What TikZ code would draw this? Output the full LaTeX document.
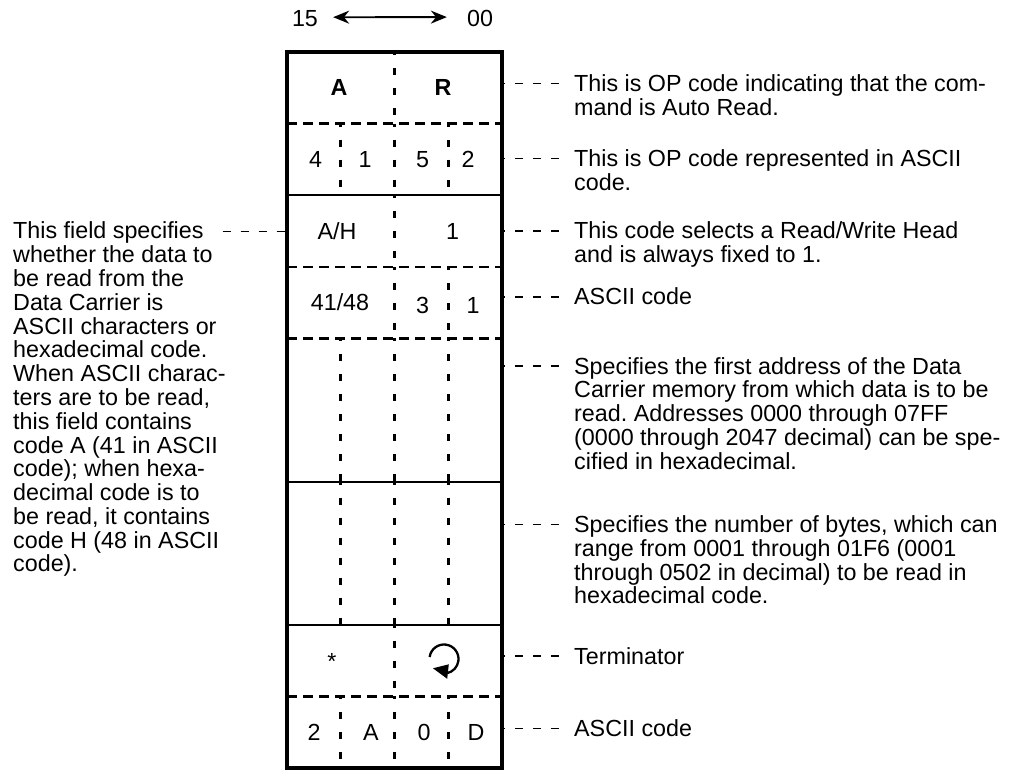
\documentclass[tikz,border=0pt]{standalone}
\usepackage{fontspec}
\setmainfont{Liberation Sans}
\usetikzlibrary{arrows.meta}
\frenchspacing
\newcommand{\desclines}[1]{\begin{tabular}[t]{@{}l@{}}#1\end{tabular}}
\begin{document}
\begin{tikzpicture}[x=1pt,y=-1pt,
  every node/.style={font=\fontsize{23.3}{23}\selectfont, inner sep=0pt},
  cell/.style={anchor=base},
  desc/.style={anchor=base west},
  border/.style={line width=4.6pt},
  solidrule/.style={line width=2.2pt},
  hdash/.style={line width=2.4pt, dash pattern=on 10pt off 6pt},
  vdash/.style={line width=2.7pt, dash pattern=on 7pt off 13pt, dash phase=4pt},
  leader/.style={line width=1.9pt, dash pattern=on 8pt off 10pt},
]
\useasboundingbox (0,0) rectangle (1018,770);

% top bit-order arrow
\node[cell] (n15) at (305,26.7) {15};
\node[cell] (n00) at (480,26.7) {00};
\draw[line width=1.8pt, {Stealth[length=16pt,width=13pt]}-{Stealth[length=16pt,width=13pt]},
  shorten <=15pt, shorten >=20pt] ([yshift=1.6pt]n15.east) -- ([yshift=1.6pt]n00.west);

% horizontal inner rules
\draw[hdash] (287,123.6) -- (502,123.6);
\draw[solidrule] (287,195.2) -- (502,195.2);
\draw[hdash] (287,266.8) -- (502,266.8);
\draw[hdash] (287,338.4) -- (502,338.4);
\draw[solidrule] (287,481.6) -- (502,481.6);
\draw[solidrule] (287,624.8) -- (502,624.8);
\draw[hdash] (287,696.4) -- (502,696.4);

% vertical dashed dividers
% centre divider, every row
\foreach \a/\b in {52/123.6,123.6/195.2,195.2/266.8,266.8/338.4,338.4/481.6,481.6/624.8,624.8/696.4,696.4/768}
  \draw[vdash] (394.5,\a) -- (394.5,\b);
% left quarter divider
\foreach \a/\b in {123.6/195.2,338.4/481.6,481.6/624.8,696.4/768}
  \draw[vdash] (340.75,\a) -- (340.75,\b);
% right quarter divider
\foreach \a/\b in {123.6/195.2,266.8/338.4,338.4/481.6,481.6/624.8,696.4/768}
  \draw[vdash] (448.25,\a) -- (448.25,\b);

% outer frame
\draw[border] (287,52) rectangle (502,768);

% cell contents
\node[cell,font=\fontsize{23.3}{23}\selectfont\bfseries] (cA) at (339,95.5) {A};
\node[cell,font=\fontsize{23.3}{23}\selectfont\bfseries] (cR) at (443,95.5) {R};
\node[cell] (c41) at (315.5,167.5) {4};
\node[cell] (c1a) at (365,167.5) {1};
\node[cell] (c5) at (422.5,167.5) {5};
\node[cell] (c2) at (468,167.5) {2};
\node[cell] (cAH) at (337,239.3) {A/H};
\node[cell] (c1b) at (452.5,239.3) {1};
\node[cell] (c4148) at (340,310) {41/48};
\node[cell] (c3) at (422.5,313.3) {3};
\node[cell] (c1c) at (473,313.3) {1};
\node[cell] (cstar) at (332,669) {*};
% return (carriage return) symbol
\coordinate (ret) at (444,659);
\draw[line width=2.3pt]
  (ret) ++(172:14.5pt) arc[start angle=172, end angle=-78, radius=14.5pt];
\fill (433,668.3) -- (448.8,664.3) -- (447.2,678.8) -- cycle;
\node[cell] (c2b) at (314,740.5) {2};
\node[cell] (cAb) at (371,740.5) {A};
\node[cell] (c0) at (424,740.5) {0};
\node[cell] (cD) at (476,740.5) {D};

% right-hand descriptions with leaders
\coordinate (r1a) at (502,83.5);  \coordinate (r1b) at (559,83.5);
\coordinate (r2a) at (502,158.5); \coordinate (r2b) at (559,158.5);
\coordinate (r3a) at (502,231);   \coordinate (r3b) at (559,231);
\coordinate (r4a) at (502,297);   \coordinate (r4b) at (559,297);
\coordinate (r5a) at (502,366);   \coordinate (r5b) at (559,366);
\coordinate (r6a) at (502,524.5); \coordinate (r6b) at (559,524.5);
\coordinate (r7a) at (502,656);   \coordinate (r7b) at (559,656);
\coordinate (r8a) at (502,728.5); \coordinate (r8b) at (559,728.5);
\foreach \i in {1,...,8}
  \draw[leader, dash phase=5pt] (r\i a) -- (r\i b);

\node[desc] (d1) at (574,92) {\desclines{This is OP code indicating that the com-\\mand is Auto Read.}};
\node[desc] (d2) at (574,166.5) {\desclines{This is OP code represented in ASCII\\code.}};
\node[desc] (d3) at (574,239) {\desclines{This code selects a Read/Write Head\\and is always fixed to 1.}};
\node[desc] (d4) at (574,305) {\desclines{ASCII code}};
\node[desc] (d5) at (574,374) {\desclines{Specifies the first address of the Data\\Carrier memory from which data is to be\\read. Addresses 0000 through 07FF\\(0000 through 2047 decimal) can be spe-\\cified in hexadecimal.}};
\node[desc] (d6) at (574,532.5) {\desclines{Specifies the number of bytes, which can\\range from 0001 through 01F6 (0001\\through 0502 in decimal) to be read in\\hexadecimal code.}};
\node[desc] (d7) at (574,664) {\desclines{Terminator}};
\node[desc] (d8) at (574,736.5) {\desclines{ASCII code}};

% left-hand description
\coordinate (la) at (222.7,231.5); \coordinate (lb) at (287,231.5);
\draw[leader] (la) -- (lb);
\node[desc] (dl) at (13,239) {\desclines{This field specifies\\whether the data to\\be read from the\\Data Carrier is\\ASCII characters or\\hexadecimal code.\\When ASCII charac-\\ters are to be read,\\this field contains\\code A (41 in ASCII\\code); when hexa-\\decimal code is to\\be read, it contains\\code H (48 in ASCII\\code).}};
\end{tikzpicture}
\end{document}
